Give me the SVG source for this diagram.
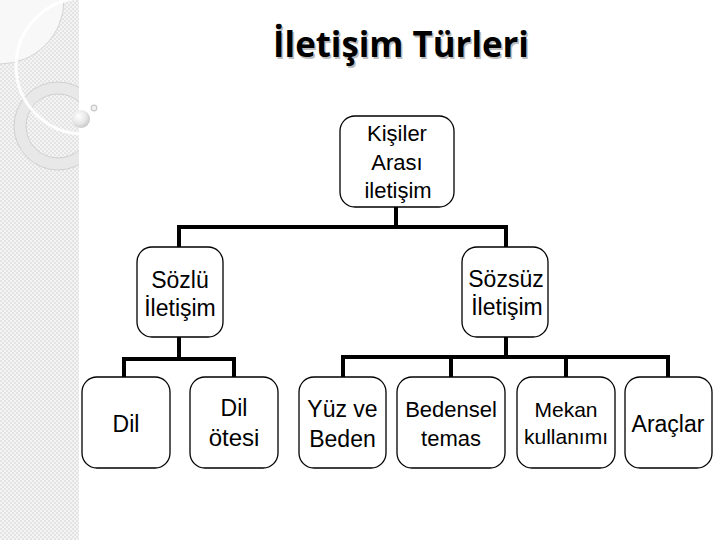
<svg xmlns="http://www.w3.org/2000/svg" width="720" height="540" viewBox="0 0 720 540">
<defs>
<pattern id="chk" width="4" height="4" patternUnits="userSpaceOnUse">
<rect width="4" height="4" fill="#f4f4f4"/>
<rect width="2" height="2" fill="#e4e4e4"/>
<rect x="2" y="2" width="2" height="2" fill="#e4e4e4"/>
</pattern>
<clipPath id="strip"><rect x="0" y="0" width="79" height="540"/></clipPath>
<radialGradient id="ball" cx="0.38" cy="0.35" r="0.7">
<stop offset="0" stop-color="#ffffff"/>
<stop offset="0.6" stop-color="#e6e6e6"/>
<stop offset="1" stop-color="#c4c4c4"/>
</radialGradient>
</defs>
<style>
.box{fill:#ffffff;stroke:#000000;stroke-width:1.3}
.lbl{font-family:"Liberation Sans",Arial,sans-serif;font-size:23px;fill:#000000;text-anchor:middle}
.conn{fill:none;stroke:#000000;stroke-width:4;stroke-linecap:square}
.title{font-family:"Open Sans","DejaVu Sans",sans-serif;font-weight:bold;font-size:35px;text-anchor:middle}
</style>
<rect width="720" height="540" fill="#ffffff"/>
<g id="background">
<rect x="0" y="0" width="79" height="540" fill="url(#chk)"/>
<g clip-path="url(#strip)">
<circle cx="0" cy="0" r="64" fill="#f8f8f8" stroke="#d2d2d2" stroke-width="1"/>
<path fill-rule="evenodd" fill="#e8e8e8" stroke="#d0d0d0" stroke-width="1" d="M14 126a44 44 0 1 0 88 0a44 44 0 1 0 -88 0ZM26 126a32 32 0 1 0 64 0a32 32 0 1 0 -64 0Z"/>
<circle cx="84" cy="66" r="68" fill="none" stroke="#ffffff" stroke-width="3" opacity="0.9"/>
</g>
<circle cx="81" cy="119" r="9" fill="url(#ball)"/>
<circle cx="94" cy="108" r="2.8" fill="#f2f2f2" stroke="#c8c8c8" stroke-width="1.2"/>
</g>
<g id="title">
<text class="title" x="402.5" y="58.5" fill="#bdbdbd" textLength="256" lengthAdjust="spacingAndGlyphs">İletişim Türleri</text>
<text class="title" x="401" y="57" fill="#000000" textLength="256" lengthAdjust="spacingAndGlyphs">İletişim Türleri</text>
</g>
<g id="connectors">
<path class="conn" d="M396 207V227M179 227H506M179 227V247M506 227V247"/>
<path class="conn" d="M179 337V359M124 359H234M124 359V377M234 359V377"/>
<path class="conn" d="M506 337V357M343 357H668M343 357V377M451 357V377M566 357V377M668 357V377"/>
</g>
<g id="n-kisiler">
<rect class="box" x="340" y="116" width="114" height="91" rx="15"/>
<text class="lbl" x="397" y="141" style="font-size:22px">Kişiler</text>
<text class="lbl" x="397" y="169.5" style="font-size:22px">Arası</text>
<text class="lbl" x="398" y="198" style="font-size:22px">iletişim</text>
</g>
<g id="n-sozlu">
<rect class="box" x="137" y="247" width="86" height="90" rx="15"/>
<text class="lbl" x="180" y="288">Sözlü</text>
<text class="lbl" x="180" y="316">İletişim</text>
</g>
<g id="n-sozsuz">
<rect class="box" x="462" y="247" width="86" height="90" rx="15"/>
<text class="lbl" x="506" y="287">Sözsüz</text>
<text class="lbl" x="507" y="315">İletişim</text>
</g>
<g id="n-dil">
<rect class="box" x="82" y="377" width="88" height="91" rx="15"/>
<text class="lbl" x="126" y="432">Dil</text>
</g>
<g id="n-dilotesi">
<rect class="box" x="190" y="377" width="88" height="91" rx="15"/>
<text class="lbl" x="234" y="416">Dil</text>
<text class="lbl" x="234" y="446" style="font-size:24px">ötesi</text>
</g>
<g id="n-yuz">
<rect class="box" x="299" y="377" width="87" height="91" rx="15"/>
<text class="lbl" x="342.5" y="417">Yüz ve</text>
<text class="lbl" x="342.5" y="446.5">Beden</text>
</g>
<g id="n-bedensel">
<rect class="box" x="397" y="377" width="108" height="91" rx="15"/>
<text class="lbl" x="451" y="417" style="font-size:22px">Bedensel</text>
<text class="lbl" x="451" y="446" style="font-size:22px">temas</text>
</g>
<g id="n-mekan">
<rect class="box" x="517" y="377" width="98" height="91" rx="15"/>
<text class="lbl" x="566" y="417" style="font-size:21px">Mekan</text>
<text class="lbl" x="566" y="444" style="font-size:21px">kullanımı</text>
</g>
<g id="n-araclar">
<rect class="box" x="625" y="377" width="87" height="91" rx="15"/>
<text class="lbl" x="668" y="432">Araçlar</text>
</g>
</svg>
